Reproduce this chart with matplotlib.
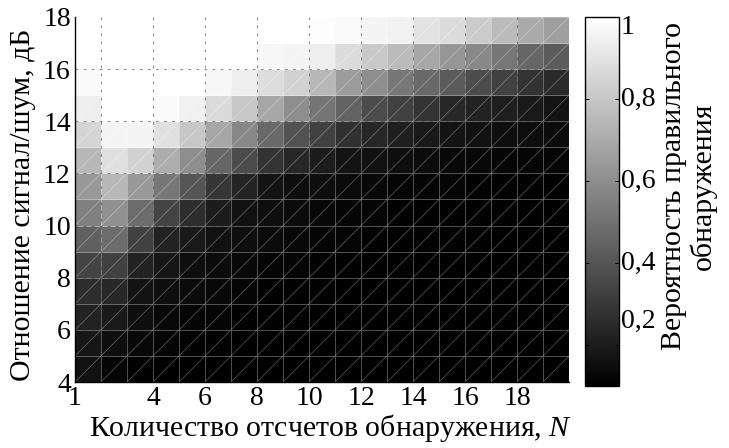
import numpy as np
import matplotlib
matplotlib.use("Agg")
import matplotlib.pyplot as plt
from matplotlib.collections import LineCollection
from matplotlib import transforms

plt.rcParams['font.family'] = ['Liberation Serif', 'DejaVu Serif']
plt.rcParams['mathtext.fontset'] = 'custom'
plt.rcParams['mathtext.rm'] = 'Liberation Serif'
plt.rcParams['mathtext.it'] = 'Liberation Serif:italic'
plt.rcParams['lines.scale_dashes'] = False

# ---- data ----
n_edges = list(range(1, 21))          # number of detection samples N (cell edges)
snr_edges = list(range(4, 19))        # SNR, dB (cell edges)
x_ticks = [1, 4, 6, 8, 10, 12, 14, 16, 18]
x_grid = [2, 4, 6, 8, 10, 12, 14, 16, 18]
y_ticks = [4, 6, 8, 10, 12, 14, 16, 18]
y_grid = [6, 8, 10, 12, 14, 16]
cb_ticks = [0.2, 0.4, 0.6, 0.8, 1.0]
cb_labels = ['0,2', '0,4', '0,6', '0,8', '1']

# probability of correct detection, rows SNR = 4..17 dB, columns N = 1..19
pd_snr04 = [0.16, 0.12, 0.11, 0.10, 0.10, 0.10, 0.10, 0.10, 0.10, 0.10, 0.10, 0.10, 0.10, 0.10, 0.10, 0.10, 0.10, 0.10, 0.10]
pd_snr05 = [0.18, 0.15, 0.13, 0.12, 0.11, 0.11, 0.10, 0.10, 0.10, 0.10, 0.10, 0.10, 0.10, 0.10, 0.10, 0.10, 0.10, 0.10, 0.10]
pd_snr06 = [0.22, 0.19, 0.15, 0.13, 0.12, 0.12, 0.11, 0.11, 0.11, 0.10, 0.10, 0.10, 0.10, 0.10, 0.10, 0.10, 0.10, 0.10, 0.10]
pd_snr07 = [0.26, 0.24, 0.17, 0.15, 0.14, 0.13, 0.12, 0.11, 0.11, 0.11, 0.10, 0.10, 0.10, 0.10, 0.10, 0.10, 0.10, 0.10, 0.10]
pd_snr08 = [0.34, 0.33, 0.22, 0.18, 0.15, 0.14, 0.13, 0.12, 0.12, 0.11, 0.11, 0.11, 0.11, 0.10, 0.10, 0.10, 0.10, 0.10, 0.10]
pd_snr09 = [0.44, 0.48, 0.33, 0.22, 0.19, 0.16, 0.15, 0.14, 0.13, 0.12, 0.12, 0.11, 0.11, 0.11, 0.11, 0.11, 0.10, 0.10, 0.10]
pd_snr10 = [0.55, 0.61, 0.48, 0.34, 0.26, 0.20, 0.16, 0.15, 0.14, 0.13, 0.12, 0.12, 0.11, 0.11, 0.11, 0.11, 0.11, 0.11, 0.11]
pd_snr11 = [0.64, 0.75, 0.64, 0.52, 0.40, 0.29, 0.23, 0.17, 0.15, 0.15, 0.14, 0.13, 0.12, 0.12, 0.12, 0.11, 0.11, 0.11, 0.11]
pd_snr12 = [0.75, 0.89, 0.84, 0.71, 0.60, 0.46, 0.37, 0.28, 0.24, 0.20, 0.17, 0.16, 0.15, 0.14, 0.13, 0.13, 0.12, 0.12, 0.12]
pd_snr13 = [0.85, 0.96, 0.96, 0.89, 0.80, 0.69, 0.58, 0.47, 0.39, 0.33, 0.27, 0.24, 0.21, 0.19, 0.17, 0.16, 0.15, 0.15, 0.14]
pd_snr14 = [0.94, 1.00, 1.00, 0.98, 0.95, 0.87, 0.80, 0.69, 0.60, 0.51, 0.45, 0.37, 0.33, 0.28, 0.24, 0.22, 0.21, 0.19, 0.17]
pd_snr15 = [0.98, 1.00, 1.00, 1.00, 1.00, 0.97, 0.94, 0.88, 0.84, 0.75, 0.65, 0.60, 0.52, 0.47, 0.42, 0.37, 0.33, 0.28, 0.25]
pd_snr16 = [1.00, 1.00, 1.00, 1.00, 1.00, 1.00, 1.00, 0.97, 0.96, 0.94, 0.87, 0.81, 0.76, 0.69, 0.63, 0.58, 0.52, 0.46, 0.42]
pd_snr17 = [1.00, 1.00, 1.00, 1.00, 1.00, 1.00, 1.00, 1.00, 1.00, 0.99, 0.98, 0.96, 0.95, 0.90, 0.87, 0.82, 0.76, 0.70, 0.66]

pd_table = np.array([pd_snr04, pd_snr05, pd_snr06, pd_snr07, pd_snr08, pd_snr09, pd_snr10,
                     pd_snr11, pd_snr12, pd_snr13, pd_snr14, pd_snr15, pd_snr16, pd_snr17])

# ---- figure ----
W, H = 729, 448
fig = plt.figure(figsize=(W / 100, H / 100), dpi=100)
ax = fig.add_axes([75 / W, 66 / H, 494 / W, 365 / H])
cax = fig.add_axes([585 / W, 62 / H, 34 / W, 369 / H])

edge_rgba = (1, 1, 1, 0.3)
mesh = ax.pcolormesh(n_edges, snr_edges, pd_table, cmap='gray',
                     vmin=pd_table.min(), vmax=1.0, shading='flat',
                     edgecolors=[edge_rgba], linewidth=0.6, zorder=1)

# triangulation diagonals of each facet
segs = []
for i in range(len(n_edges) - 1):
    for j in range(len(snr_edges) - 1):
        segs.append([(n_edges[i], snr_edges[j]), (n_edges[i + 1], snr_edges[j + 1])])
ax.add_collection(LineCollection(segs, colors=[edge_rgba], linewidths=0.6, zorder=2))

# dashed grid
grid_kw = dict(color=(0.3, 0.3, 0.3), alpha=0.6, linewidth=0.8,
               linestyle=(0, (2.0, 3.8)), zorder=3)
for gx in x_grid:
    ax.axvline(gx, **grid_kw)
for gy in y_grid:
    ax.axhline(gy, **grid_kw)

ax.set_xlim(n_edges[0], n_edges[-1])
ax.set_ylim(snr_edges[0], snr_edges[-1])
ax.set_xticks(x_ticks)
ax.set_xticklabels([str(t) for t in x_ticks])
ax.set_yticks(y_ticks)
ax.set_yticklabels([str(t) for t in y_ticks])
ax.tick_params(axis='both', length=0, labelsize=20, pad=3)
ax.tick_params(axis='x', pad=3)
for s in ['top', 'right']:
    ax.spines[s].set_visible(False)
for s in ['left', 'bottom']:
    ax.spines[s].set_linewidth(1.0)
    ax.spines[s].set_zorder(5)

LABEL_FS = 21.5
fig.text(23 / W, 1 - 205 / H, 'Отношение сигнал/шум, дБ', rotation=90,
         ha='center', va='center', fontsize=LABEL_FS)
fig.text(331 / W, 1 - 428 / H, 'Количество отсчетов обнаружения, $N$',
         ha='center', va='center', fontsize=LABEL_FS)

# colorbar
cb = fig.colorbar(mesh, cax=cax, ticks=cb_ticks)
cb.outline.set_linewidth(1.0)
cax.tick_params(axis='y', direction='in', left=True, right=True, length=3,
                width=0.7, labelright=False, labelleft=False)
label_offsets_px = {'1': -10, '0,2': 24}
for v, lab in zip(cb_ticks, cb_labels):
    dy = label_offsets_px.get(lab, 0) / 100.0
    tr = cax.get_yaxis_transform() + transforms.ScaledTranslation(2 / 100.0, dy, fig.dpi_scale_trans)
    cax.text(1.0, v, lab, transform=tr, ha='left', va='center', fontsize=20)

fig.text(689 / W, 1 - 186 / H, 'Вероятность правильного\nобнаружения', rotation=90,
         ha='center', va='center', multialignment='center', fontsize=LABEL_FS, linespacing=1.14)

fig.savefig('out.png', dpi=100)
